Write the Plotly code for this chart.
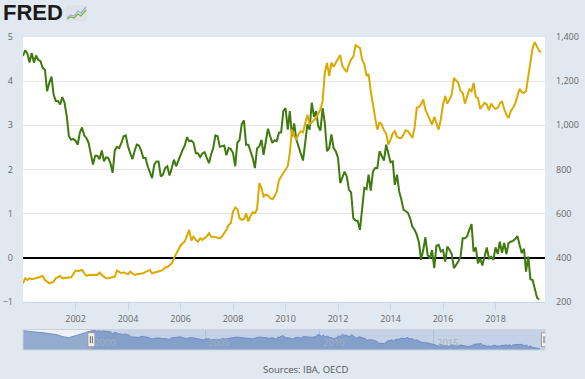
import pandas as pd
import plotly.graph_objects as go

# ---------------- data ----------------
series_start = "2000-01-01"

# Green series (left axis), monthly from Jan 2000
green_values = [
    4.57, 4.70, 4.63, 4.42, 4.64, 4.42, 4.58, 4.48, 4.45, 4.30,
    4.26, 3.77, 3.96, 4.10, 3.70, 3.55, 3.55, 3.47, 3.64, 3.51,
    3.20, 2.75, 2.67, 2.69, 2.65, 2.56, 2.83, 2.95, 2.77, 2.71,
    2.60, 2.31, 2.11, 2.31, 2.31, 2.23, 2.43, 2.18, 2.27, 2.26,
    2.14, 1.92, 2.43, 2.51, 2.48, 2.60, 2.75, 2.77, 2.52, 2.37,
    2.23, 2.41, 2.56, 2.54, 2.43, 2.26, 2.26, 2.07, 1.92, 1.80,
    2.11, 2.18, 2.18,
    1.84, 1.88, 2.03, 2.07, 1.86, 2.03, 2.22, 2.07, 2.20, 2.31,
    2.45, 2.54, 2.73, 2.64, 2.65, 2.60, 2.37, 2.36, 2.28, 2.36,
    2.39, 2.26, 2.14, 2.33, 2.48, 2.77, 2.75, 2.51, 2.52, 2.54,
    2.32, 2.48, 2.46, 2.37, 2.07, 2.60, 2.67, 3.02, 3.11, 2.56,
    2.56, 2.41, 2.26, 2.03, 2.48, 2.52, 2.67, 2.33, 2.66, 2.92,
    2.75, 2.60, 2.66, 2.64, 2.83, 2.84, 3.32, 3.39, 2.90,
    3.32, 2.75, 3.04, 2.67, 2.52, 2.37, 2.20, 2.60, 3.02, 2.90,
    3.51, 3.19, 3.32, 2.98, 2.88, 3.39, 3.05, 2.41, 2.48, 2.79,
    2.48, 2.41, 2.26, 1.69, 1.84, 1.95, 1.84, 1.54, 1.48, 0.89,
    0.84, 0.83, 0.63, 1.12, 1.58, 1.55, 1.88, 1.52, 1.95, 2.03,
    2.03, 2.41, 2.31, 2.20, 2.56, 2.33, 2.16, 2.18, 1.65, 1.88,
    1.50, 1.31, 1.08, 1.05, 1.01, 0.89, 0.70, 0.63, 0.52, 0.33,
    -0.05, 0.17, 0.46, 0.06, -0.02, 0.17, -0.24, 0.27, 0.29, 0.14,
    0.17, -0.09, 0.25, 0.17, 0.08, -0.24, -0.17, -0.09, 0.02, 0.44,
    0.44, 0.48, 0.63, 0.76, 0.14, 0.23, -0.13, -0.02, -0.18, 0.04,
    0.23, -0.02, 0.02, -0.05, 0.23, 0.08, 0.36, 0.11, 0.33, 0.08,
    0.33, 0.36, 0.38, 0.42, 0.49, 0.29, 0.10, 0.20, -0.32, 0.02,
    -0.49, -0.51, -0.73, -0.91, -0.95,
]

# Gold series (right axis), monthly from Jan 2000
gold_values = [
    283, 306, 298, 306, 302, 304, 306, 310, 314, 317,
    298, 290, 283, 287, 291, 306, 312, 317, 306, 308,
    311, 310, 311, 325, 341, 338, 341, 344, 330, 317,
    321, 322, 324, 322, 321, 332, 321, 315, 306, 306,
    309, 312, 314, 341, 335, 329, 333, 330, 324, 336,
    328, 321, 324, 326, 329, 329, 335, 341,
    344, 329, 331, 333, 336, 340, 344, 356, 356, 365,
    374, 397, 415, 435, 455, 465, 473, 500, 526, 477,
    495, 480, 473, 488, 480, 488, 495, 511, 495, 495,
    492, 488, 488, 495, 508, 526, 548, 556, 609, 627,
    620, 579, 571, 574, 601, 564, 589, 605, 601, 620,
    738, 715, 677, 685, 682, 670, 665, 677, 700,
    750, 768, 783, 795, 814, 874, 980, 950, 938, 958,
    973, 968, 1006, 1048, 1003, 1011, 1023, 1033, 1056, 1071,
    1109, 1238, 1283, 1223, 1283, 1265, 1283, 1298, 1318, 1268,
    1256, 1241, 1276, 1298, 1311, 1362, 1356, 1351, 1298, 1276,
    1223, 1233, 1154, 1086, 1033, 980, 1014, 1003, 977, 962,
    912, 935, 962, 973, 947, 942, 942, 958, 977, 973,
    958, 942, 988, 1079, 1083, 1094, 1117, 1071, 1048, 1023,
    1003, 1038, 1011, 980, 1026, 1094, 1132, 1098, 1117, 1139,
    1215, 1204, 1192, 1154, 1147, 1098, 1132, 1162, 1154, 1192,
    1129, 1124, 1074, 1089, 1101, 1094, 1068, 1098, 1083, 1074,
    1079, 1098, 1109, 1074, 1048, 1033, 1064, 1079, 1098, 1132,
    1165, 1150, 1147, 1154, 1223, 1283, 1351, 1377, 1359, 1336,
    1333,
]

# Navigator: earlier history of the green series (before the zoomed window)
nav_pre_dates = ["1997-01-01", "1997-07-01", "1998-01-01", "1998-07-01", "1998-10-01",
                 "1999-01-01", "1999-04-01", "1999-07-01", "1999-10-01", "1999-12-01"]
nav_pre_values = [4.6, 4.3, 3.9, 3.4, 2.8, 2.5, 2.9, 3.5, 4.1, 4.5]

x_tick_years = ["2002", "2004", "2006", "2008", "2010", "2012", "2014", "2016", "2018"]
left_ticks = [-1, 0, 1, 2, 3, 4, 5]
right_ticks = [200, 400, 600, 800, 1000, 1200, 1400]
nav_label_years = ["2000", "2005", "2010", "2015"]
source_text = "Sources: IBA, OECD"

# ---------------- styling ----------------
GREEN = "#3f7a0e"
GOLD = "#dba900"
PAGE_BG = "#e1e9f0"
TICK_FONT = dict(family="Open Sans", size=9, color="#666666")
W, H = 585, 379
M_L, M_R, M_T, M_B = 23, 40, 37, 29
X_END = "2019-11-20"
NAV_START = "1997-01-01"
NAV_MIN, NAV_MAX = -1.25, 5.0

def px(x):
    return (x - M_L) / (W - M_L - M_R)

def py(y):
    return (H - M_B - y) / (H - M_T - M_B)

main_bottom = py(301.7)
nav_top = py(329.5)

green_dates = pd.date_range(series_start, periods=len(green_values), freq="MS")
gold_dates = pd.date_range(series_start, periods=len(gold_values), freq="MS")
nav_x = list(pd.to_datetime(nav_pre_dates)) + list(green_dates)
nav_y = [v - NAV_MIN for v in nav_pre_values + green_values]

fig = go.Figure()

# navigator area (drawn first, bottom subplot)
fig.add_trace(go.Scatter(
    x=nav_x, y=nav_y, xaxis="x2", yaxis="y3", mode="lines",
    line=dict(color="#6f8fc2", width=1), fill="tozeroy", fillcolor="#93abcf",
    hoverinfo="skip", showlegend=False))

fig.add_trace(go.Scatter(
    x=green_dates, y=green_values, mode="lines", yaxis="y",
    line=dict(color=GREEN, width=2), showlegend=False))
fig.add_trace(go.Scatter(
    x=gold_dates, y=gold_values, mode="lines", yaxis="y2",
    line=dict(color=GOLD, width=2), showlegend=False))

shapes = []
# navigator background
shapes.append(dict(type="rect", xref="paper", yref="paper", x0=0, x1=1, y0=0, y1=nav_top,
                   fillcolor="#eef2f7", line=dict(width=0), layer="below"))
# selection mask
shapes.append(dict(type="rect", xref="x2", yref="paper", x0=series_start, x1=X_END,
                   y0=0, y1=nav_top, fillcolor="rgba(102,133,194,0.30)",
                   line=dict(width=0), layer="above"))
# navigator outline
shapes.append(dict(type="rect", xref="paper", yref="paper", x0=0, x1=1, y0=0, y1=nav_top,
                   line=dict(color="#c9d2dd", width=1), fillcolor="rgba(0,0,0,0)", layer="above"))
# handles
for hx in [series_start, X_END]:
    shapes.append(dict(type="rect", xref="x2", yref="paper", xsizemode="pixel", ysizemode="pixel",
                       xanchor=hx, yanchor=nav_top / 2, x0=-3.5, x1=3.5, y0=-7, y1=7,
                       fillcolor="#f4f4f4", line=dict(color="#9a9a9a", width=1), layer="above"))
    for dx in [-1, 1]:
        shapes.append(dict(type="line", xref="x2", yref="paper", xsizemode="pixel", ysizemode="pixel",
                           xanchor=hx, yanchor=nav_top / 2, x0=dx, x1=dx, y0=-3.5, y1=3.5,
                           line=dict(color="#666666", width=1), layer="above"))

# FRED logo icon
shapes.append(dict(type="rect", xref="paper", yref="paper", x0=px(66), x1=px(87), y0=py(21), y1=py(5),
                   fillcolor="#dfe3e7", line=dict(width=0)))
def path_from(points):
    return "M " + " L ".join(f"{px(a):.5f},{py(b):.5f}" for a, b in points)
shapes.append(dict(type="path", xref="paper", yref="paper",
                   path=path_from([(67, 18), (71, 15), (74, 16), (78, 11), (81, 13), (86, 7)]),
                   line=dict(color="#8fb5d9", width=1.2)))
shapes.append(dict(type="path", xref="paper", yref="paper",
                   path=path_from([(67, 19), (71, 17), (74, 18), (78, 14), (81, 16), (86, 10)]),
                   line=dict(color="#7bb241", width=1.2)))

annotations = [
    dict(text="<b>FRED</b>", xref="paper", yref="paper", x=px(1), y=py(12.5),
         xanchor="left", yanchor="middle", showarrow=False,
         font=dict(family="Liberation Sans", size=22, color="#1b1b1b")),
    dict(text=source_text, xref="paper", yref="paper", x=px(305), y=py(369),
         xanchor="center", yanchor="middle", showarrow=False,
         font=dict(family="Open Sans", size=9.5, color="#555555")),
]
for yr in nav_label_years:
    annotations.append(dict(text=yr, xref="x2", yref="paper", x=f"{yr}-01-01", y=py(342),
                            xanchor="left", yanchor="middle", xshift=1, showarrow=False,
                            font=dict(family="Open Sans", size=9.5, color="#a7b0bf")))

fig.update_layout(
    width=W, height=H,
    margin=dict(l=M_L, r=M_R, t=M_T, b=M_B, pad=0, autoexpand=False),
    paper_bgcolor=PAGE_BG, plot_bgcolor="#ffffff",
    showlegend=False,
    xaxis=dict(domain=[0, 1], anchor="y", type="date", range=[series_start, X_END],
               tickmode="array", tickvals=[f"{y}-01-01" for y in x_tick_years], ticktext=x_tick_years,
               ticks="outside", ticklen=8, tickcolor="#ccd6eb", tickwidth=1,
               showline=True, linecolor="#ccd6eb", linewidth=1, showgrid=False, zeroline=False,
               tickfont=TICK_FONT, automargin=False),
    yaxis=dict(domain=[main_bottom, 1], range=[-1, 5], tickmode="array", tickvals=left_ticks,
               showgrid=True, gridcolor="#e6e6e6", gridwidth=1,
               zeroline=True, zerolinecolor="#000000", zerolinewidth=2,
               showline=False, ticks="", tickfont=TICK_FONT, ticklabelstandoff=9, automargin=False),
    yaxis2=dict(overlaying="y", side="right", anchor="x", range=[200, 1400], tickmode="array",
                tickvals=right_ticks, tickformat=",d", showgrid=False, zeroline=False,
                showline=False, ticks="", tickfont=TICK_FONT, ticklabelstandoff=10, automargin=False),
    xaxis2=dict(domain=[0, 1], anchor="y3", type="date", range=[NAV_START, X_END],
                tickmode="array", tickvals=[f"{y}-01-01" for y in nav_label_years],
                showticklabels=False, showgrid=True, gridcolor="#cfd8e4", gridwidth=1,
                zeroline=False, showline=False, ticks="", automargin=False),
    yaxis3=dict(domain=[0, nav_top], range=[0, NAV_MAX - NAV_MIN], visible=False,
                fixedrange=True, automargin=False),
    shapes=shapes,
    annotations=annotations,
)

fig.write_html(
    "out.html",
    config={"displayModeBar": False},
    post_script="document.body.style.margin='0';document.body.style.background='#e1e9f0';",
)
